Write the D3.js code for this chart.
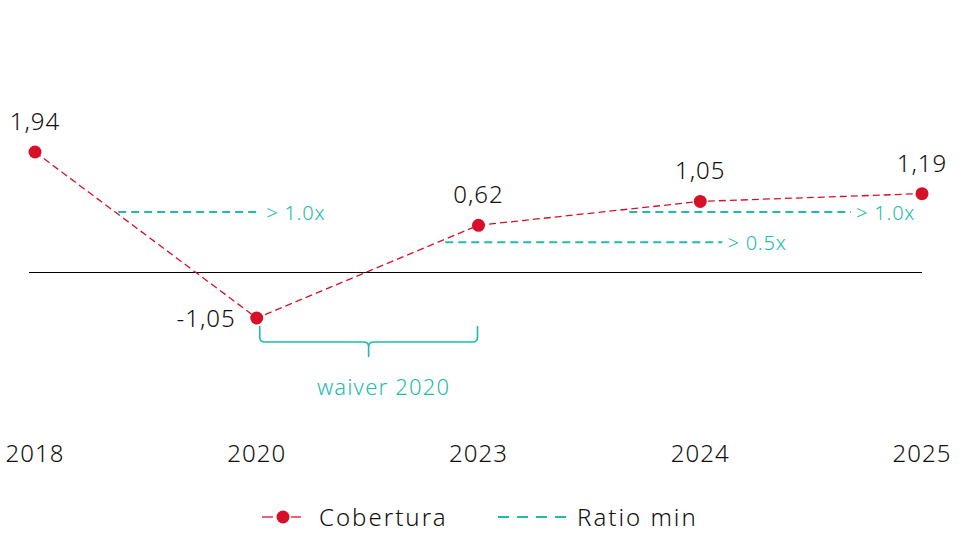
<!DOCTYPE html>
<html>
<head>
<meta charset="utf-8">
<script src="https://cdn.jsdelivr.net/npm/d3@7"></script>
<style>
  body { margin: 0; background: #fff; }
  svg text { font-family: "Noto Sans", sans-serif; font-weight: 350; }
</style>
</head>
<body>
<div id="chart"></div>
<script>
var
  width = 962,
  height = 534;

// data
var years = ["2018", "2020", "2023", "2024", "2025"];
var cobertura = [1.94, -1.05, 0.62, 1.05, 1.19];
var coberturaLabels = ["1,94", "-1,05", "0,62", "1,05", "1,19"];
// ratio min thresholds, drawn between fractional category positions
var ratioFrom = [0.375, 1.85, 2.68];
var ratioTo = [1.02, 3.1, 3.68];
var ratioValue = [1.0, 0.5, 1.0];
var ratioLabels = ["> 1.0x", "> 0.5x", "> 1.0x"];
var waiverFrom = 1, waiverTo = 2, waiverLabel = "waiver 2020";

var red = "#d7102a", teal = "#1dbcae", ink = "#111";

var svg = d3.select("#chart")
  .append("svg")
  .attr("width", width)
  .attr("height", height);

// category index -> x
var x = d3.scaleLinear()
  .domain([0, years.length - 1])
  .range([35, 922]);

// cobertura axis (hidden)
var y = d3.scaleLinear()
  .domain([-1.05, 1.94])
  .range([318, 152]);

// ratio axis (hidden, secondary)
var yR = d3.scaleLinear()
  .domain([0, 1])
  .range([272.5, 212]);

// base line
svg.append("line")
  .attr("x1", 29).attr("x2", x(years.length - 1))
  .attr("y1", yR(0)).attr("y2", yR(0))
  .attr("stroke", "#000").attr("stroke-width", 1.2);

// year labels
svg.selectAll(".year")
  .data(years)
  .enter().append("text")
  .attr("class", "year")
  .attr("x", function(d, i) { return x(i); })
  .attr("y", 462)
  .attr("text-anchor", "middle")
  .attr("font-size", 24)
  .attr("letter-spacing", 1)
  .attr("fill", ink)
  .text(function(d) { return d; });

// ratio min segments
svg.selectAll(".ratio")
  .data(ratioValue)
  .enter().append("line")
  .attr("class", "ratio")
  .attr("x1", function(d, i) { return x(ratioFrom[i]); })
  .attr("x2", function(d, i) { return x(ratioTo[i]); })
  .attr("y1", function(d) { return yR(d); })
  .attr("y2", function(d) { return yR(d); })
  .attr("stroke", teal)
  .attr("stroke-width", 2)
  .attr("stroke-dasharray", "8,5");

svg.selectAll(".ratioLabel")
  .data(ratioValue)
  .enter().append("text")
  .attr("class", "ratioLabel")
  .attr("x", function(d, i) { return x(ratioTo[i]) + 5; })
  .attr("y", function(d) { return yR(d) + 8; })
  .attr("font-size", 20)
  .attr("letter-spacing", 0.8)
  .attr("fill", teal)
  .text(function(d, i) { return ratioLabels[i]; });

// cobertura line
var line = d3.line()
  .x(function(d, i) { return x(i); })
  .y(function(d) { return y(d); });

svg.append("path")
  .datum(cobertura)
  .attr("d", line)
  .attr("fill", "none")
  .attr("stroke", red)
  .attr("stroke-width", 1.3)
  .attr("stroke-dasharray", "7,4");

svg.selectAll(".dot")
  .data(cobertura)
  .enter().append("circle")
  .attr("class", "dot")
  .attr("cx", function(d, i) { return x(i); })
  .attr("cy", function(d) { return y(d); })
  .attr("r", 6.5)
  .attr("fill", red);

svg.selectAll(".val")
  .data(cobertura)
  .enter().append("text")
  .attr("class", "val")
  .attr("x", function(d, i) { return d < 0 ? x(i) - 21 : x(i); })
  .attr("y", function(d) { return d < 0 ? y(d) + 9 : y(d) - 22; })
  .attr("text-anchor", function(d) { return d < 0 ? "end" : "middle"; })
  .attr("font-size", 24)
  .attr("letter-spacing", 1)
  .attr("fill", ink)
  .text(function(d, i) { return coberturaLabels[i]; });

// waiver brace
var bx0 = x(waiverFrom) + 3, bx1 = x(waiverTo) - 1, bm = (bx0 + bx1) / 2;
var by0 = 326, by1 = 342, by2 = 357;
svg.append("path")
  .attr("d",
    "M" + bx0 + "," + by0 +
    "L" + bx0 + "," + (by1 - 5) +
    "Q" + bx0 + "," + by1 + " " + (bx0 + 5) + "," + by1 +
    "L" + (bm - 5) + "," + by1 +
    "Q" + bm + "," + by1 + " " + bm + "," + (by1 + 5) +
    "L" + bm + "," + by2 +
    "M" + bm + "," + (by1 + 5) +
    "Q" + bm + "," + by1 + " " + (bm + 5) + "," + by1 +
    "L" + (bx1 - 5) + "," + by1 +
    "Q" + bx1 + "," + by1 + " " + bx1 + "," + (by1 - 5) +
    "L" + bx1 + "," + by0)
  .attr("fill", "none")
  .attr("stroke", teal)
  .attr("stroke-width", 1.6);

svg.append("text")
  .attr("x", bm + 15)
  .attr("y", 395)
  .attr("text-anchor", "middle")
  .attr("font-size", 22)
  .attr("letter-spacing", 1.2)
  .attr("fill", teal)
  .text(waiverLabel);

// legend
var lg = svg.append("g").attr("transform", "translate(262,517)");
lg.append("line")
  .attr("x1", 0).attr("x2", 11).attr("y1", 0).attr("y2", 0)
  .attr("stroke", red).attr("stroke-width", 1.3);
lg.append("line")
  .attr("x1", 29).attr("x2", 39).attr("y1", 0).attr("y2", 0)
  .attr("stroke", red).attr("stroke-width", 1.3);
lg.append("circle").attr("cx", 21).attr("cy", 0).attr("r", 6.5).attr("fill", red);
lg.append("text")
  .attr("x", 57).attr("y", 9)
  .attr("font-size", 24).attr("letter-spacing", 2).attr("fill", ink)
  .text("Cobertura");
lg.append("line")
  .attr("x1", 236).attr("x2", 304).attr("y1", 0).attr("y2", 0)
  .attr("stroke", teal).attr("stroke-width", 2.2)
  .attr("stroke-dasharray", "11,8");
lg.append("text")
  .attr("x", 315).attr("y", 9)
  .attr("font-size", 24).attr("letter-spacing", 2).attr("fill", ink)
  .text("Ratio min");
</script>
</body>
</html>
